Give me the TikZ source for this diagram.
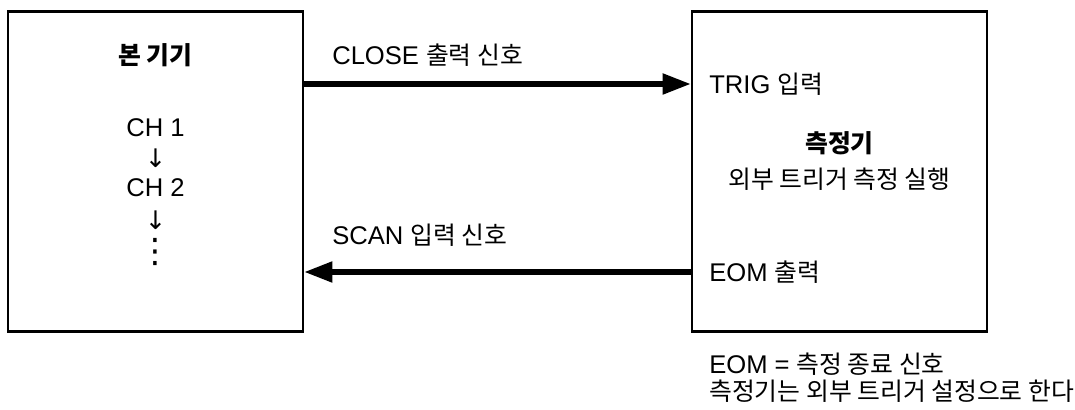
\documentclass[tikz,border=0pt]{standalone}
\usepackage{fontspec}
\setmainfont{Liberation Sans}
\newfontfamily\krfont[Scale=0.97]{Noto Sans CJK KR}
\newfontfamily\symfont{DejaVu Sans}
\newcommand{\kr}[1]{{\krfont #1}}
\usepackage{tikz}
\usetikzlibrary{arrows.meta, positioning}

\begin{document}
\begin{tikzpicture}[every node/.style={font=\fontsize{18.2}{21}\selectfont, inner sep=0pt}]
    \useasboundingbox (0,0) rectangle (26.875,10.25);
    \tikzset{
        unitbox/.style={draw, line width=1.9pt, minimum width=7.375cm, minimum height=8cm},
        sigline/.style={line width=3.6pt, -{Triangle[length=7mm, width=5mm]}}
    }

    % Boxes
    \node[unitbox] (main) at (3.8875, 5.9625) {};
    \node[unitbox] (meter) at (20.9875, 5.9625) {};

    % Main unit (left)
    \node[font=\fontsize{18.2}{21}\selectfont\bfseries] (mainname) at (3.8875, 8.875) {\kr{본 기기}};
    \node (ch1) at (3.8875, 7.05) {CH 1};
    \node (dn1) at (3.8875, 6.3) {\symfont ↓};
    \node (ch2) at (3.8875, 5.55) {CH 2};
    \node (dn2) at (3.8875, 4.75) {\symfont ↓};
    \node[font=\fontsize{24}{26}\selectfont] (more) at (3.8875, 3.95) {\symfont ⋮};

    % Measuring instrument (right)
    \node[anchor=west] (trig) at (17.725, 8.15) {TRIG \kr{입력}};
    \node[font=\fontsize{18.2}{21}\selectfont\bfseries] (metername) at (20.9875, 6.675) {\kr{측정기}};
    \node (extrun) at (20.9875, 5.775) {\kr{외부 트리거 측정 실행}};
    \node[anchor=west] (eom) at (17.725, 3.45) {EOM \kr{출력}};

    % Signals
    \draw[sigline] (main.east |- trig.west) -- (meter.west |- trig.west);
    \node[anchor=west] (closelbl) at (8.3, 8.875) {CLOSE \kr{출력 신호}};
    \draw[sigline] (meter.west |- eom.west) -- (main.east |- eom.west);
    \node[anchor=west] (scanlbl) at (8.3, 4.375) {SCAN \kr{입력 신호}};

    % Notes
    \node[anchor=west] (note1) at (17.725, 1.15) {EOM = \kr{측정 종료 신호}};
    \node[anchor=west] (note2) at (17.725, 0.475) {\kr{측정기는 외부 트리거 설정으로 한다}};

\end{tikzpicture}
\end{document}
